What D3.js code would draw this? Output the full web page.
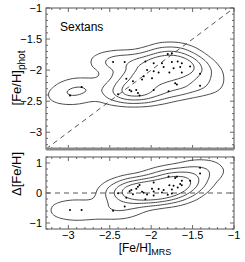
<!DOCTYPE html>
<html>
<head>
    <meta charset="utf-8">
    <title>Sextans [Fe/H] comparison</title>
    <script src="https://d3js.org/d3.v7.min.js"></script>
    <style>
        html, body {
            margin: 0;
            background: #fff;
            overflow: hidden;
        }
        text {
            font-family: "Liberation Sans", Arial, sans-serif;
            fill: #000;
        }
    </style>
</head>
<body>
    <div id="chart"></div>

    <script>
        // [Fe/H] from medium-resolution spectra (x) and photometric [Fe/H] (y)
        const feMRS = [
            -2.98, -2.84, -2.46, -2.32, -2.40, -2.30, -2.22, -2.11, -1.99, -2.26,
            -2.18, -2.24, -2.16, -2.14, -2.05, -2.07, -1.97, -1.87, -1.85, -1.80,
            -1.75, -1.75, -1.68, -1.63, -1.73, -1.65, -1.78, -1.91, -1.97, -1.63,
            -1.53, -1.41, -1.71, -1.69, -1.41, -1.97, -1.79, -2.09
        ];
        const fePhot = [
            -2.41, -2.27, -1.87, -1.87, -2.39, -2.14, -2.18, -2.15, -2.13, -2.32,
            -2.32, -2.34, -2.37, -2.41, -2.00, -1.86, -1.89, -1.89, -1.95, -1.74,
            -1.73, -1.87, -1.86, -1.89, -1.97, -1.95, -2.04, -2.04, -2.02, -2.04,
            -1.94, -2.06, -2.21, -2.23, -2.25, -2.32, -2.34, -2.10
        ];
        const galaxy = "Sextans";
        const xTicks = [-3, -2.5, -2, -1.5, -1];
        const yTicksTop = [-3, -2.5, -2, -1.5, -1];
        const yTicksBottom = [-1, 0, 1];
        const contourLevels = [0.04, 0.14, 0.3, 0.5];

        const points = feMRS.map((m, i) => ({mrs: m, phot: fePhot[i], delta: m - fePhot[i]}));

        const W = 245, H = 262;
        const left = 46, right = 234;
        const top1 = 8, bottom1 = 149;
        const top2 = 157, bottom2 = 229;

        const svg = d3.select("#chart")
            .append("svg")
            .attr("width", W)
            .attr("height", H);

        const x = d3.scaleLinear().domain([-3.27, -1]).range([left, right]);
        const yTop = d3.scaleLinear().domain([-3.27, -1]).range([bottom1, top1]);
        const yBot = d3.scaleLinear().domain([-1.2, 1.2]).range([bottom2, top2]);

        const fmt = d => String(d).replace("-", "\u2212");

        // kernel is wider along x than y: squeeze x before the density, stretch back after
        const sx = 2.3, pad = 40;

        function panel(id, y, yTicks, yAcc, minorY, topY, botY, bw) {
            const g = svg.append("g");

            g.append("clipPath").attr("id", id)
                .append("rect")
                .attr("x", left).attr("y", topY)
                .attr("width", right - left).attr("height", botY - topY);

            const inner = g.append("g").attr("clip-path", `url(#${id})`);
            const refLine = inner.append("g");

            // density contours
            const density = d3.contourDensity()
                .x(d => (x(d.mrs) - left + pad) / sx)
                .y(d => y(yAcc(d)) - topY + pad)
                .size([Math.ceil((right - left + 2 * pad) / sx), botY - topY + 2 * pad])
                .cellSize(1)
                .bandwidth(bw);
            const c = density.contours(points);
            const back = d3.geoTransform({
                point: function(px, py) {
                    this.stream.point(px * sx + left - pad, py + topY - pad);
                }
            });
            inner.append("g")
                .selectAll("path")
                .data(contourLevels.map(f => c(f * c.max)))
                .join("path")
                .attr("d", d3.geoPath(back))
                .attr("fill", "none")
                .attr("stroke", "#333")
                .attr("stroke-width", 0.9);

            // points
            inner.selectAll("circle")
                .data(points)
                .join("circle")
                .attr("cx", d => x(d.mrs))
                .attr("cy", d => y(yAcc(d)))
                .attr("r", 1)
                .attr("fill", "#000");

            // ticks (inward, on all four sides)
            const xMinor = d3.range(-3.2, -0.99, 0.1);
            const ticks = g.append("g").attr("stroke", "#444").attr("stroke-width", 0.8);
            xMinor.forEach(v => {
                const major = xTicks.some(t => Math.abs(t - v) < 1e-6);
                const len = major ? 4 : 2;
                ticks.append("line").attr("x1", x(v)).attr("x2", x(v)).attr("y1", botY).attr("y2", botY - len);
                ticks.append("line").attr("x1", x(v)).attr("x2", x(v)).attr("y1", topY).attr("y2", topY + len);
            });
            minorY.forEach(v => {
                const major = yTicks.some(t => Math.abs(t - v) < 1e-6);
                const len = major ? 4 : 2;
                ticks.append("line").attr("x1", left).attr("x2", left + len).attr("y1", y(v)).attr("y2", y(v));
                ticks.append("line").attr("x1", right).attr("x2", right - len).attr("y1", y(v)).attr("y2", y(v));
            });

            // frame
            g.append("rect")
                .attr("x", left).attr("y", topY)
                .attr("width", right - left).attr("height", botY - topY)
                .attr("fill", "none")
                .attr("stroke", "#555")
                .attr("stroke-width", 1);

            // y tick labels
            g.selectAll(".ylab")
                .data(yTicks)
                .join("text")
                .attr("x", left - 4)
                .attr("y", d => y(d))
                .attr("dy", "0.35em")
                .attr("text-anchor", "end")
                .attr("font-size", 11)
                .text(fmt);
            return {g, refLine};
        }

        // top panel: photometric vs spectroscopic
        const p1 = panel("clipTop", yTop, yTicksTop, d => d.phot,
            d3.range(-3.2, -0.99, 0.1), top1, bottom1, 6);
        p1.refLine.append("line")
            .attr("x1", x(-3.27)).attr("y1", yTop(-3.27))
            .attr("x2", x(-1)).attr("y2", yTop(-1))
            .attr("stroke", "#444")
            .attr("stroke-width", 0.9)
            .attr("stroke-dasharray", "5,4");
        p1.g.append("line")
            .attr("x1", left).attr("x2", right)
            .attr("y1", bottom1).attr("y2", bottom1)
            .attr("stroke", "#888")
            .attr("stroke-width", 3);
        p1.g.append("text")
            .attr("x", 60).attr("y", 31)
            .attr("font-size", 12)
            .text(galaxy);

        // bottom panel: difference
        const p2 = panel("clipBot", yBot, yTicksBottom, d => d.delta,
            d3.range(-1.2, 1.21, 0.2).map(v => Math.round(v * 10) / 10), top2, bottom2, 6);
        p2.refLine.append("line")
            .attr("x1", left).attr("x2", right)
            .attr("y1", yBot(0)).attr("y2", yBot(0))
            .attr("stroke", "#444")
            .attr("stroke-width", 0.9)
            .attr("stroke-dasharray", "5,4");

        // x tick labels
        svg.selectAll(".xlab")
            .data(xTicks)
            .join("text")
            .attr("x", d => x(d))
            .attr("y", 239)
            .attr("text-anchor", "middle")
            .attr("font-size", 11)
            .text(fmt);

        // axis titles
        const xt = svg.append("text")
            .attr("x", 145).attr("y", 252)
            .attr("text-anchor", "middle")
            .attr("font-size", 12);
        xt.append("tspan").text("[Fe/H]");
        xt.append("tspan").attr("dy", 3).attr("font-size", 9).text("MRS");

        const yt1 = svg.append("text")
            .attr("transform", "translate(21,78) rotate(-90)")
            .attr("text-anchor", "middle")
            .attr("font-size", 13);
        yt1.append("tspan").text("[Fe/H]");
        yt1.append("tspan").attr("dy", 4).attr("font-size", 10).text("phot");

        svg.append("text")
            .attr("transform", "translate(21,174) rotate(-90)")
            .attr("text-anchor", "middle")
            .attr("font-size", 13)
            .text("\u0394[Fe/H]");
    </script>
</body>
</html>
